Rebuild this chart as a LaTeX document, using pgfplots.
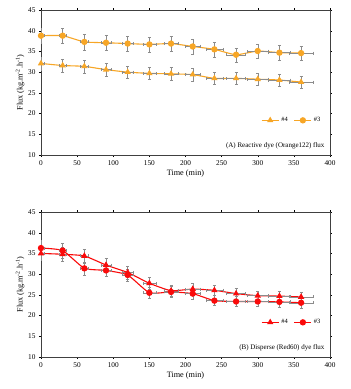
\documentclass[border=0pt]{standalone}
\usepackage{pgfplots}
\pgfplotsset{compat=1.18}
\usepackage{fontspec}
\setmainfont{Liberation Serif}
\definecolor{orA}{RGB}{247,166,38}
\definecolor{rdB}{RGB}{250,10,10}
\definecolor{errg}{RGB}{140,140,140}
\pgfplotsset{
  panel/.style={
    scale only axis, width=289pt, height=145pt,
    xmin=0, xmax=400, ymin=10, ymax=45,
    xtick={0,50,...,400}, ytick={10,15,...,45},
    tick align=outside, tick style={black,thin}, major tick length=2pt,
    axis line style={black!75, thin},
    ticklabel style={font=\fontsize{7.3}{8}\selectfont},
    /pgf/number format/assume math mode=true,
    xlabel={Time (min)}, ylabel={Flux (kg.m\textsuperscript{-2}.h\textsuperscript{-1})},
    label style={font=\fontsize{8.2}{9}\selectfont},
    xlabel style={yshift=3pt}, ylabel style={yshift=-3pt},
    legend columns=2,
    legend style={draw=none, fill=none, font=\fontsize{6.5}{7}\selectfont, at={(0.985,0.19)}, anchor=south east, /tikz/every even column/.append style={column sep=4pt}},
    error bars/y dir=both, error bars/y explicit,
    error bars/x dir=both, error bars/x explicit,
    error bars/error bar style={errg, thin},
    error bars/error mark options={errg, thin, rotate=90, mark size=1.5pt},
  },
  s4/.style={smooth, tension=0.3, line width=1.1pt, mark=triangle*, mark size=2.6pt},
  s3/.style={smooth, tension=0.3, line width=1.1pt, mark=*, mark size=2.6pt},
}
\begin{document}
\begin{tikzpicture}
\path[use as bounding box] (0,0) rectangle (351pt,-389pt);
\begin{axis}[panel, at={(41pt,-10pt)}, anchor=north west]
\addplot[s4, color=orA] table[x=x, y=y, x error=ex, y error=ey] {
x y ex ey
0 32.1 4 1.6
30 31.6 5 1.6
60 31.4 6 1.6
90 30.6 7 1.5
120 30.0 8 1.5
150 29.7 9 1.5
180 29.6 10 1.5
210 29.4 11 1.5
240 28.5 12 1.4
270 28.5 13 1.4
300 28.3 14 1.4
330 28.1 15 1.4
360 27.6 17 1.4
};
\addlegendentry{\#4}
\addplot[s3, color=orA] table[x=x, y=y, x error=ex, y error=ey] {
x y ex ey
0 38.8 4 1.9
30 38.8 5 1.9
60 37.3 6 1.9
90 37.1 7 1.8
120 36.9 8 1.8
150 36.7 9 1.8
180 36.9 10 1.8
210 36.2 11 1.8
240 35.5 12 1.8
270 34.2 13 1.7
300 35.1 14 1.7
330 34.7 15 1.7
360 34.6 17 1.7
};
\addlegendentry{\#3}
\node[anchor=south east, font=\fontsize{7}{8}\selectfont, inner sep=1pt] at (rel axis cs:0.985,0.03) {(A) Reactive dye (Orange122) flux};
\end{axis}
\begin{axis}[panel, at={(41pt,-212pt)}, anchor=north west]
\addplot[s4, color=rdB] table[x=x, y=y, x error=ex, y error=ey] {
x y ex ey
0 35.0 4 1.7
30 34.8 5 1.7
60 34.4 6 1.7
90 32.2 7 1.6
120 30.4 8 1.5
150 27.8 9 1.4
180 26.0 10 1.3
210 26.4 11 1.3
240 26.1 12 1.3
270 25.3 13 1.3
300 24.8 14 1.2
330 24.7 15 1.2
360 24.5 17 1.2
};
\addlegendentry{\#4}
\addplot[s3, color=rdB] table[x=x, y=y, x error=ex, y error=ey] {
x y ex ey
0 36.3 4 1.8
30 35.7 5 1.8
60 31.4 6 1.6
90 30.9 7 1.5
120 29.8 8 1.5
150 25.5 9 1.3
180 25.7 10 1.3
210 25.3 11 1.3
240 23.6 12 1.2
270 23.4 13 1.2
300 23.4 14 1.2
330 23.3 15 1.2
360 23.1 17 1.2
};
\addlegendentry{\#3}
\node[anchor=south east, font=\fontsize{7}{8}\selectfont, inner sep=1pt] at (rel axis cs:0.985,0.03) {(B) Disperse (Red60) dye flux};
\end{axis}
\end{tikzpicture}
\end{document}
